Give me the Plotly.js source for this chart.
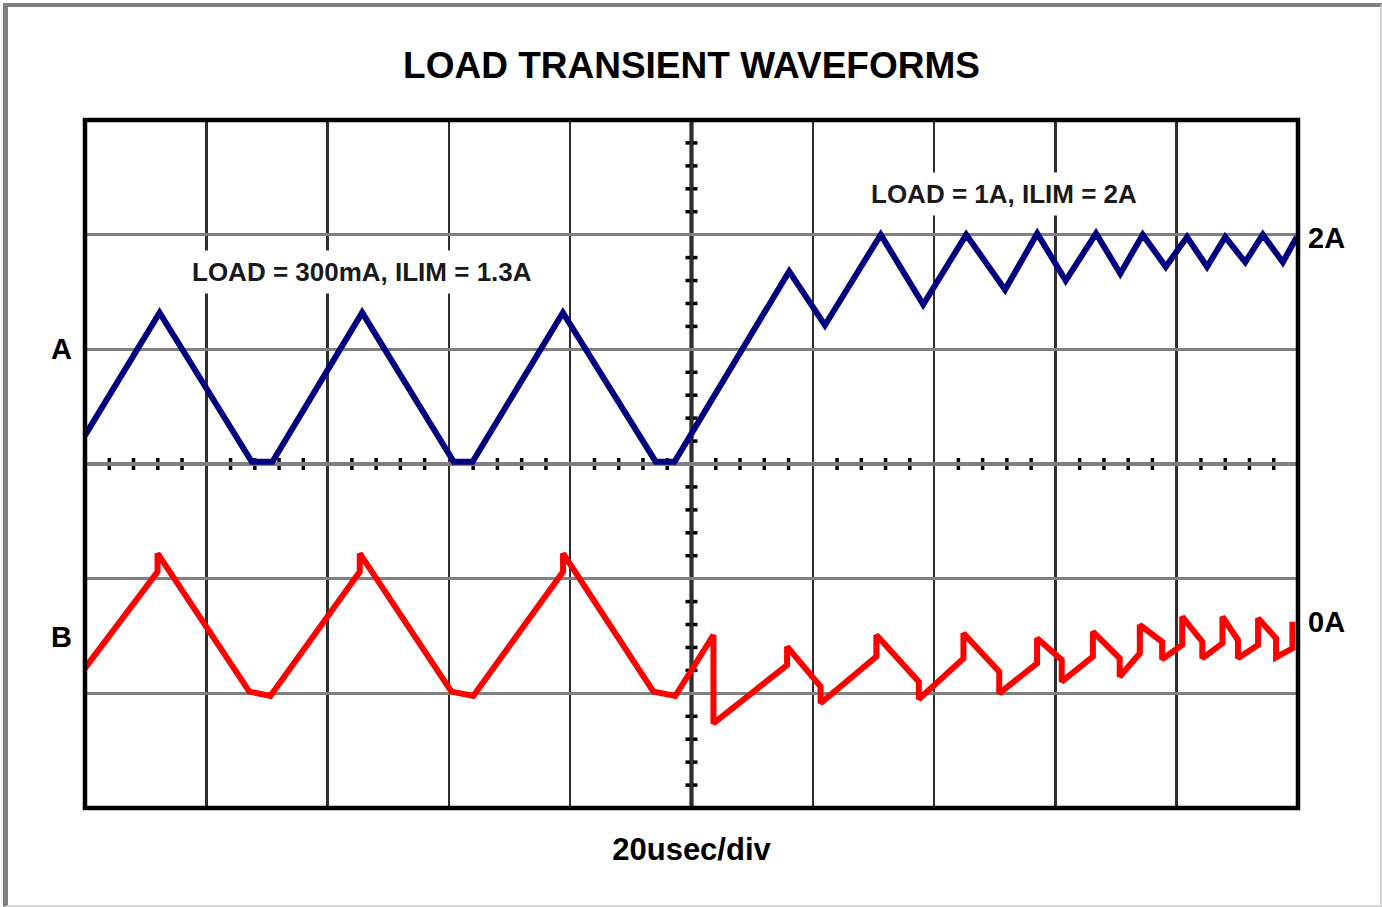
<!DOCTYPE html>
<html>
<head>
<meta charset="utf-8">
<script src="https://cdn.plot.ly/plotly-3.0.1.min.js"></script>
<style>
  html, body { margin: 0; padding: 0; background: #ffffff; }
  #wrap { position: relative; width: 1382px; height: 907px; }
  #chart { position: absolute; left: 0; top: 0; width: 1382px; height: 907px; }
  #frame { position: absolute; left: 3px; top: 3px; width: 1379px; height: 904px; box-sizing: border-box;
           border-left: 5px solid #808080; border-top: 4px solid #808080;
           border-right: 2px solid #d4d4d4; border-bottom: 2px solid #d8d8d8; pointer-events: none; }
</style>
</head>
<body>
<div id="wrap"><div id="chart"></div><div id="frame"></div></div>
<script>
// ---- data (time in microseconds, amplitude in screen divisions; 20 us/div) ----
const chA_time = [0, 12.3, 27.5, 30.9, 45.7, 60.8, 63.9, 78.8, 94.1, 97.2, 116.1, 122.0, 131.2, 138.2, 145.3, 151.7, 157.0, 161.7, 166.7, 170.7, 174.4, 178.2, 181.7, 185.0, 188.0, 191.3, 194.2, 197.5, 199.8];
const chA_div  = [0.25, 1.32, 0.02, 0.02, 1.32, 0.02, 0.02, 1.32, 0.02, 0.02, 1.68, 1.21, 2.00, 1.39, 2.00, 1.52, 2.01, 1.60, 2.01, 1.66, 2.00, 1.72, 1.98, 1.72, 1.98, 1.76, 2.00, 1.76, 1.98];

const chB_time = [0, 11.96, 11.96, 27.1, 30.56, 45.3, 45.3, 60.42, 64.02, 78.82, 78.82, 93.72, 97.32,
  103.62, 103.62, 115.76, 115.76, 121.28, 121.28, 130.48, 130.48, 137.48, 137.48, 144.84, 144.84,
  150.74, 150.74, 156.98, 156.98, 161.04, 161.04, 166.18, 166.18, 170.6, 170.6, 173.92, 173.92,
  177.6, 177.6, 180.9, 180.9, 184.22, 184.22, 187.54, 187.54, 190.1, 190.1, 193.42, 193.42,
  196.38, 196.38, 199.08, 199.08];
const chB_div  = [-1.78, -0.94, -0.78, -1.985, -2.023, -0.94, -0.78, -1.985, -2.023, -0.94, -0.78, -1.985, -2.023,
  -1.491, -2.262, -1.753, -1.593, -1.942, -2.087, -1.680, -1.491, -1.898, -2.052, -1.695, -1.476,
  -1.811, -2.000, -1.738, -1.520, -1.709, -1.898, -1.680, -1.462, -1.695, -1.855, -1.651, -1.404,
  -1.550, -1.703, -1.578, -1.332, -1.550, -1.695, -1.564, -1.332, -1.535, -1.695, -1.578, -1.346,
  -1.520, -1.686, -1.607, -1.375];

const titleText = 'LOAD TRANSIENT WAVEFORMS';
const xTitleText = '20usec/div';
const noteA = 'LOAD = 300mA, ILIM = 1.3A';
const noteB = 'LOAD = 1A, ILIM = 2A';
const channelLabels = ['A', 'B'];
const levelLabels = ['2A', '0A'];

// ---- screen geometry (oscilloscope graticule) ----
const timeSpan = 200, usPerDiv = 20, vDivs = 3;
const FONT = 'Liberation Sans, Arial, Helvetica, sans-serif';

const traces = [
  { x: chA_time, y: chA_div, type: 'scatter', mode: 'lines', name: 'A',
    line: { color: '#000080', width: 6 }, hoverinfo: 'skip' },
  { x: chB_time, y: chB_div, type: 'scatter', mode: 'lines', name: 'B',
    line: { color: '#ff0000', width: 6 }, hoverinfo: 'skip' }
];

const shapes = [];
const mid = timeSpan / 2;
// centre cross-hair axes
shapes.push({ type: 'line', xref: 'x', yref: 'paper', x0: mid, x1: mid, y0: 0, y1: 1, line: { color: '#000', width: 4 }, layer: 'below' });
shapes.push({ type: 'line', xref: 'paper', yref: 'y', x0: 0, x1: 1, y0: 0, y1: 0, line: { color: '#000', width: 4 }, layer: 'below' });
// minor ticks on the centre axes (5 per division)
const minorX = usPerDiv / 5;
for (let i = 1; i < timeSpan / minorX; i++) {
  if (i % 5 === 0) continue;
  shapes.push({ type: 'line', xref: 'x', yref: 'y', x0: i * minorX, x1: i * minorX,
    ysizemode: 'pixel', yanchor: 0, y0: -6, y1: 6, line: { color: '#000', width: 3.5 }, layer: 'below' });
}
for (let j = -vDivs * 5 + 1; j < vDivs * 5; j++) {
  if (j % 5 === 0) continue;
  shapes.push({ type: 'line', xref: 'x', yref: 'y', xsizemode: 'pixel', xanchor: mid, x0: -6, x1: 6,
    y0: j / 5, y1: j / 5, line: { color: '#000', width: 3.5 }, layer: 'below' });
}
// graticule border
shapes.push({ type: 'rect', xref: 'paper', yref: 'paper', x0: 0, x1: 1, y0: 0, y1: 1,
  line: { color: '#000', width: 4.5 }, layer: 'above' });

const labelFont = { family: FONT, size: 29, color: '#000', weight: 700 };
const noteFont = { family: FONT, size: 26, color: '#1a1a1a', weight: 700 };

const annotations = [
  { text: noteA, xref: 'x', yref: 'y', x: 45.7, y: 1.674, showarrow: false, font: noteFont,
    bgcolor: '#ffffff', borderpad: 6 },
  { text: noteB, xref: 'x', yref: 'y', x: 151.5, y: 2.355, showarrow: false, font: noteFont,
    bgcolor: '#ffffff', borderpad: 6 },
  { text: channelLabels[0], xref: 'paper', yref: 'y', x: 0, y: 1.0, xanchor: 'right', xshift: -11,
    showarrow: false, font: labelFont },
  { text: channelLabels[1], xref: 'paper', yref: 'y', x: 0, y: -1.51, xanchor: 'right', xshift: -11,
    showarrow: false, font: labelFont },
  { text: levelLabels[0], xref: 'paper', yref: 'y', x: 1, y: 1.97, xanchor: 'left', xshift: 8,
    showarrow: false, font: labelFont },
  { text: levelLabels[1], xref: 'paper', yref: 'y', x: 1, y: -1.38, xanchor: 'left', xshift: 8,
    showarrow: false, font: labelFont }
];

const layout = {
  width: 1382, height: 907,
  margin: { l: 85, r: 84, t: 120, b: 99 },
  paper_bgcolor: 'rgba(0,0,0,0)', plot_bgcolor: '#ffffff',
  showlegend: false,
  title: { text: titleText, font: { family: FONT, size: 37, color: '#000', weight: 700 },
           x: 0.5, xref: 'paper', y: 1 - 65 / 907, yref: 'container', yanchor: 'middle' },
  xaxis: { range: [0, timeSpan], dtick: usPerDiv, tick0: 0, showticklabels: false, ticks: '',
           showgrid: true, gridcolor: '#2e2e2e', gridwidth: 2.5, zeroline: false, showline: false,
           fixedrange: true,
           title: { text: xTitleText, standoff: 30, font: { family: FONT, size: 31, color: '#000', weight: 700 } } },
  yaxis: { range: [-vDivs, vDivs], dtick: 1, tick0: 0, showticklabels: false, ticks: '',
           showgrid: true, gridcolor: '#808080', gridwidth: 3.5, zeroline: false, showline: false,
           fixedrange: true },
  shapes: shapes,
  annotations: annotations
};

Plotly.newPlot('chart', traces, layout, { displayModeBar: false, staticPlot: true });
</script>
</body>
</html>
